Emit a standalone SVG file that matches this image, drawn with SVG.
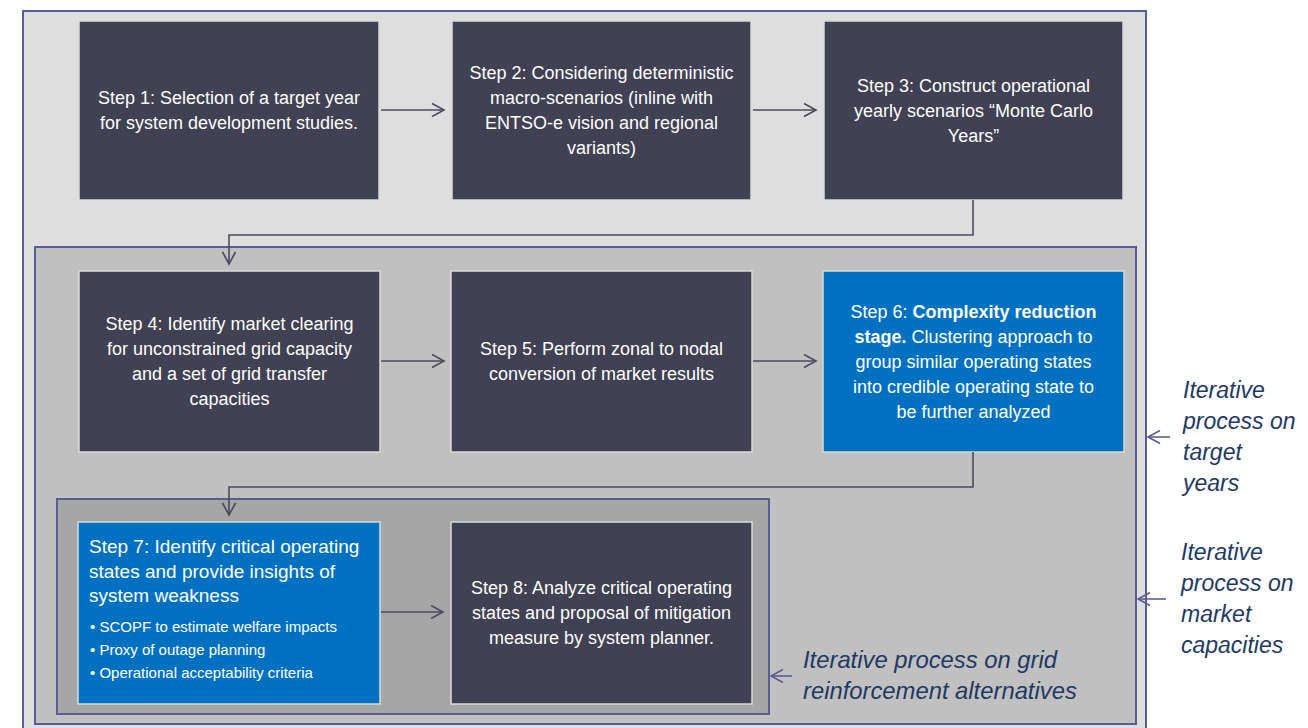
<svg xmlns="http://www.w3.org/2000/svg" width="1308" height="728" viewBox="0 0 1308 728">
  <style>
    .frame { stroke: #5c5c94; stroke-width: 2; }
    .box { stroke: #dadada; stroke-width: 1.5; }
    .dark { fill: #404152; }
    .blue { fill: #0070c0; }
    .t { font-family: "Liberation Sans", Arial, sans-serif; font-size: 18px; fill: #ffffff; text-anchor: middle; }
    .t7 { font-family: "Liberation Sans", Arial, sans-serif; font-size: 19px; fill: #ffffff; }
    .bul { font-family: "Liberation Sans", Arial, sans-serif; font-size: 15px; fill: #ffffff; }
    .b { font-weight: bold; }
    .flow { fill: none; stroke: #4a4a5c; stroke-width: 1.6; }
    .loop { fill: none; stroke: #5c5c94; stroke-width: 1.6; }
    .note { font-family: "Liberation Sans", Arial, sans-serif; font-size: 23px; font-style: italic; fill: #1f3864; }
    .note-wide { font-size: 23.8px; }
  </style>
  <defs>
    <marker id="chev" markerUnits="userSpaceOnUse" markerWidth="16" markerHeight="16" refX="13" refY="8" orient="auto">
      <path d="M1,1.5 L13,8 L1,14.5" fill="none" stroke="#4a4a5c" stroke-width="1.6"/>
    </marker>
    <marker id="chevLoop" markerUnits="userSpaceOnUse" markerWidth="16" markerHeight="16" refX="13" refY="8" orient="auto">
      <path d="M1,1.5 L13,8 L1,14.5" fill="none" stroke="#5c5c94" stroke-width="1.6"/>
    </marker>
  </defs>

  <rect width="1308" height="728" fill="#ffffff"/>

  <!-- nested iteration frames -->
  <g id="frame-target-years">
    <rect class="frame" x="23" y="11" width="1123" height="740" fill="#dedede"/>
  </g>
  <g id="frame-market-capacities">
    <rect class="frame" x="35" y="247" width="1101" height="477" fill="#c0c0c0"/>
  </g>
  <g id="frame-grid-reinforcement">
    <rect class="frame" x="57" y="499" width="712" height="215" fill="#a6a6a6"/>
  </g>

  <!-- steps -->
  <g id="step1">
    <rect class="box dark" x="79" y="21" width="300" height="179"/>
    <text class="t" x="229" y="104">Step 1: Selection of a target year</text>
    <text class="t" x="229" y="129">for system development studies.</text>
  </g>
  <g id="step2">
    <rect class="box dark" x="452" y="21" width="299" height="179"/>
    <text class="t" x="601.5" y="79">Step 2: Considering deterministic</text>
    <text class="t" x="601.5" y="104">macro-scenarios (inline with</text>
    <text class="t" x="601.5" y="129">ENTSO-e vision and regional</text>
    <text class="t" x="601.5" y="154">variants)</text>
  </g>
  <g id="step3">
    <rect class="box dark" x="824" y="21" width="299" height="179"/>
    <text class="t" x="973.5" y="91.5">Step 3: Construct operational</text>
    <text class="t" x="973.5" y="116.5">yearly scenarios “Monte Carlo</text>
    <text class="t" x="973.5" y="141.5">Years”</text>
  </g>
  <g id="step4">
    <rect class="box dark" x="79" y="271" width="301" height="181"/>
    <text class="t" x="229.5" y="330">Step 4: Identify market clearing</text>
    <text class="t" x="229.5" y="355">for unconstrained grid capacity</text>
    <text class="t" x="229.5" y="380">and a set of grid transfer</text>
    <text class="t" x="229.5" y="405">capacities</text>
  </g>
  <g id="step5">
    <rect class="box dark" x="451" y="271" width="301" height="181"/>
    <text class="t" x="601.5" y="355">Step 5: Perform zonal to nodal</text>
    <text class="t" x="601.5" y="380">conversion of market results</text>
  </g>
  <g id="step6">
    <rect class="box blue" x="823" y="271" width="301" height="181"/>
    <text class="t" x="973.5" y="317.5">Step 6: <tspan class="b">Complexity reduction</tspan></text>
    <text class="t" x="973.5" y="342.5"><tspan class="b">stage.</tspan> Clustering approach to</text>
    <text class="t" x="973.5" y="367.5">group similar operating states</text>
    <text class="t" x="973.5" y="392.5">into credible operating state to</text>
    <text class="t" x="973.5" y="417.5">be further analyzed</text>
  </g>
  <g id="step7">
    <rect class="box blue" x="78" y="522" width="302" height="182"/>
    <text class="t7" x="89" y="553">Step 7: Identify critical operating</text>
    <text class="t7" x="89" y="578">states and provide insights of</text>
    <text class="t7" x="89" y="602">system weakness</text>
    <text class="bul" x="90" y="632">• SCOPF to estimate welfare impacts</text>
    <text class="bul" x="90" y="655">• Proxy of outage planning</text>
    <text class="bul" x="90" y="678">• Operational acceptability criteria</text>
  </g>
  <g id="step8">
    <rect class="box dark" x="451" y="522" width="301" height="182"/>
    <text class="t" x="601.5" y="594">Step 8: Analyze critical operating</text>
    <text class="t" x="601.5" y="619">states and proposal of mitigation</text>
    <text class="t" x="601.5" y="644">measure by system planner.</text>
  </g>

  <!-- iteration labels -->
  <g id="label-target-years">
    <text class="note" x="1183" y="398">Iterative</text>
    <text class="note" x="1183" y="429">process on</text>
    <text class="note" x="1183" y="460">target</text>
    <text class="note" x="1183" y="491">years</text>
  </g>
  <g id="label-market-capacities">
    <text class="note" x="1181" y="560">Iterative</text>
    <text class="note" x="1181" y="591">process on</text>
    <text class="note" x="1181" y="622">market</text>
    <text class="note" x="1181" y="653">capacities</text>
  </g>
  <g id="label-grid-reinforcement">
    <text class="note note-wide" x="803" y="668">Iterative process on grid</text>
    <text class="note note-wide" x="803" y="699">reinforcement alternatives</text>
  </g>

  <!-- connectors -->
  <g id="connectors">
    <line class="flow" x1="381" y1="110" x2="444" y2="110" marker-end="url(#chev)"/>
    <line class="flow" x1="753" y1="110" x2="816" y2="110" marker-end="url(#chev)"/>
    <polyline class="flow" points="973,200 973,235 229,235 229,264" marker-end="url(#chev)"/>
    <line class="flow" x1="381" y1="361" x2="444" y2="361" marker-end="url(#chev)"/>
    <line class="flow" x1="753" y1="361" x2="816" y2="361" marker-end="url(#chev)"/>
    <polyline class="flow" points="973,452 973,487 229,487 229,515" marker-end="url(#chev)"/>
    <line class="flow" x1="381" y1="612" x2="443" y2="612" marker-end="url(#chev)"/>
    <line class="loop" x1="1170" y1="437" x2="1148" y2="437" marker-end="url(#chevLoop)"/>
    <line class="loop" x1="1166" y1="599" x2="1138" y2="599" marker-end="url(#chevLoop)"/>
    <line class="loop" x1="792" y1="676" x2="771" y2="676" marker-end="url(#chevLoop)"/>
  </g>
</svg>
